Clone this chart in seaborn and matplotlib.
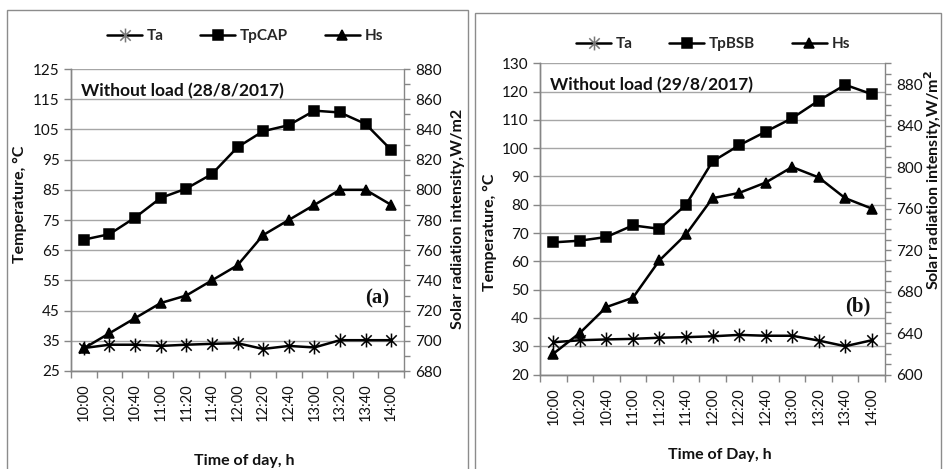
import numpy as np
import pandas as pd
import seaborn as sns
import matplotlib
matplotlib.use("Agg")
import matplotlib.pyplot as plt
from matplotlib.path import Path
from matplotlib.lines import Line2D
from matplotlib.patches import Rectangle
from matplotlib.ticker import MultipleLocator, FixedLocator

# ---- data -------------------------------------------------------------
times = ["10:00", "10:20", "10:40", "11:00", "11:20", "11:40", "12:00",
         "12:20", "12:40", "13:00", "13:20", "13:40", "14:00"]

# (a) 28/8/2017, CAP collector
ta_a = [32.6, 33.7, 33.7, 33.3, 33.7, 34.0, 34.2, 32.3, 33.3, 32.8, 35.2, 35.2, 35.2]
tp_cap = [68.5, 70.3, 75.8, 82.3, 85.4, 90.2, 99.1, 104.4, 106.4, 111.2, 110.6, 106.8, 98.2]
hs_a = [695, 705, 715, 725, 730, 740, 750, 770, 780, 790, 800, 800, 790]

# (b) 29/8/2017, BSB collector
ta_b = [31.4, 32.1, 32.4, 32.6, 33.0, 33.2, 33.5, 34.0, 33.7, 33.7, 32.0, 30.0, 32.1]
tp_bsb = [66.7, 67.3, 68.6, 72.7, 71.5, 80.0, 95.3, 101.0, 105.8, 110.6, 116.8, 122.4, 119.1]
hs_b = [620, 640, 665, 674, 710, 735, 770, 775, 785, 800, 790, 770, 760]

# ---- style ------------------------------------------------------------
sns.set_theme(style="white")
plt.rcParams["font.family"] = ["Lato", "DejaVu Sans"]

GRID = "#a6a6a6"
AXC = "#868686"
TXT = "#111111"

star = Path([(0, -1), (0, 1), (-0.75, -0.75), (0.75, 0.75), (-0.75, 0.75), (0.75, -0.75)],
            [Path.MOVETO, Path.LINETO, Path.MOVETO, Path.LINETO, Path.MOVETO, Path.LINETO])

line_kw = dict(color="black", linewidth=1.8, markeredgecolor="black", markeredgewidth=1.1)

fig = plt.figure(figsize=(9.43, 4.69), dpi=100)

# panel frames (pixel boxes converted to figure fractions)
W, H = 943.0, 469.0
for (x0, y0, x1, y1) in [(7, 10, 468, 475), (475, 13, 941, 475)]:
    fig.add_artist(Rectangle((x0 / W, 1 - y1 / H), (x1 - x0) / W, (y1 - y0) / H,
                             transform=fig.transFigure, fill=False,
                             edgecolor="#8c8c8c", linewidth=1.0, zorder=0))


def panel(rect, ta, tp, hs, tp_name, ylim, yticks, rlim, rmajor, rminor,
          title, tag, tag_xy, xlabel, xlab_y, legend_xy, ylab_x, ylab_y,
          rlab_x, rlab_y, rlab_text):
    ax = fig.add_axes(rect)
    df = pd.DataFrame({"time": times, "Ta": ta, "Tp": tp, "Hs": hs})
    sns.lineplot(data=df, x="time", y="Ta", ax=ax, marker=star, markersize=10, **line_kw)
    sns.lineplot(data=df, x="time", y="Tp", ax=ax, marker="s", markersize=6.5, **line_kw)
    ax2 = ax.twinx()
    sns.lineplot(data=df, x="time", y="Hs", ax=ax2, marker="^", markersize=7, **line_kw)

    ax.set_xlim(-0.5, len(times) - 0.5)
    ax.set_ylim(*ylim)
    ax.yaxis.set_major_locator(FixedLocator(yticks))
    ax.grid(axis="y", color=GRID, linewidth=1.0)
    ax.grid(axis="x", visible=False)
    ax.set_axisbelow(True)

    ax2.set_ylim(*rlim)
    ax2.yaxis.set_major_locator(FixedLocator(rmajor))
    ax2.yaxis.set_minor_locator(MultipleLocator(rminor))
    ax2.grid(False)

    # category ticks: labels centred, tick marks between categories
    ax.set_xticks(range(len(times)))
    ax.set_xticklabels(times, rotation=90)
    ax.xaxis.set_minor_locator(FixedLocator(np.arange(-0.5, len(times), 1.0)))
    ax.tick_params(axis="x", which="major", length=0, pad=9, labelsize=10.5, labelcolor=TXT)
    ax.tick_params(axis="x", which="minor", length=5, width=1, color=AXC, direction="out", bottom=True)
    ax.tick_params(axis="y", which="major", length=5, width=1, color=AXC, direction="out",
                   left=True, labelsize=11, labelcolor=TXT, pad=3)
    ax2.tick_params(axis="y", which="both", length=4, width=1, color=AXC, direction="out",
                    right=True, labelsize=11, labelcolor=TXT, pad=4)

    for a in (ax, ax2):
        a.spines["top"].set_visible(False)
        for s in ("left", "right", "bottom"):
            a.spines[s].set_color(AXC)
            a.spines[s].set_linewidth(1.0)
    ax.spines["right"].set_visible(False)

    ax.set_ylabel("")
    ax2.set_ylabel("")
    ax.set_xlabel(xlabel, fontsize=11.5, fontweight="bold", color=TXT)
    ax.xaxis.set_label_coords(0.52, xlab_y)

    fig.text(ylab_x / W, 1 - ylab_y / H, "Temperature, °C", rotation=90, ha="center",
             va="center", fontsize=11.5, fontweight="bold", color=TXT)
    fig.text(rlab_x / W, 1 - rlab_y / H, rlab_text, rotation=90, ha="center",
             va="center", fontsize=11.5, fontweight="bold", color=TXT)

    ax.text(0.03, 0.955, title, transform=ax.transAxes, ha="left", va="top",
            fontsize=12.5, fontweight="bold", color=TXT)
    fig.text(tag_xy[0] / W, 1 - tag_xy[1] / H, tag, ha="center", va="center",
             fontsize=15, fontweight="bold", family="Liberation Serif", color=TXT)

    handles = [Line2D([], [], marker=star, markersize=10, **{**line_kw, "markeredgecolor": "#777777"}),
               Line2D([], [], marker="s", markersize=6.5, **line_kw),
               Line2D([], [], marker="^", markersize=7, **line_kw)]
    fig.legend(handles, ["Ta", tp_name, "Hs"], loc="center",
               bbox_to_anchor=(legend_xy[0] / W, 1 - legend_xy[1] / H), ncol=3,
               frameon=False, handlelength=2.3, handletextpad=0.3, columnspacing=2.4,
               prop={"size": 11, "weight": "bold"})
    return ax, ax2


panel([71 / W, 1 - 371 / H, 333 / W, 302 / H], ta_a, tp_cap, hs_a, "TpCAP",
      (25, 125), list(range(25, 126, 10)), (680, 880), list(range(680, 881, 20)), 10,
      "Without load (28/8/2017)", "(a)", (377, 298), "Time of day, h", -0.275,
      (245, 36), 20, 204, 458, 219, "Solar radiation intensity,W/m2")

panel([540 / W, 1 - 374.5 / H, 345 / W, 311.2 / H], ta_b, tp_bsb, hs_b, "TpBSB",
      (20, 130), list(range(20, 131, 10)), (600, 900), list(range(600, 881, 40)), 10,
      "Without load (29/8/2017)", "(b)", (858, 306), "Time of Day, h", -0.235,
      (713, 44), 490, 232, 933, 180, "Solar radiation intensity,W/m$^{\\mathbf{2}}$")

fig.savefig("out.png", dpi=100)
